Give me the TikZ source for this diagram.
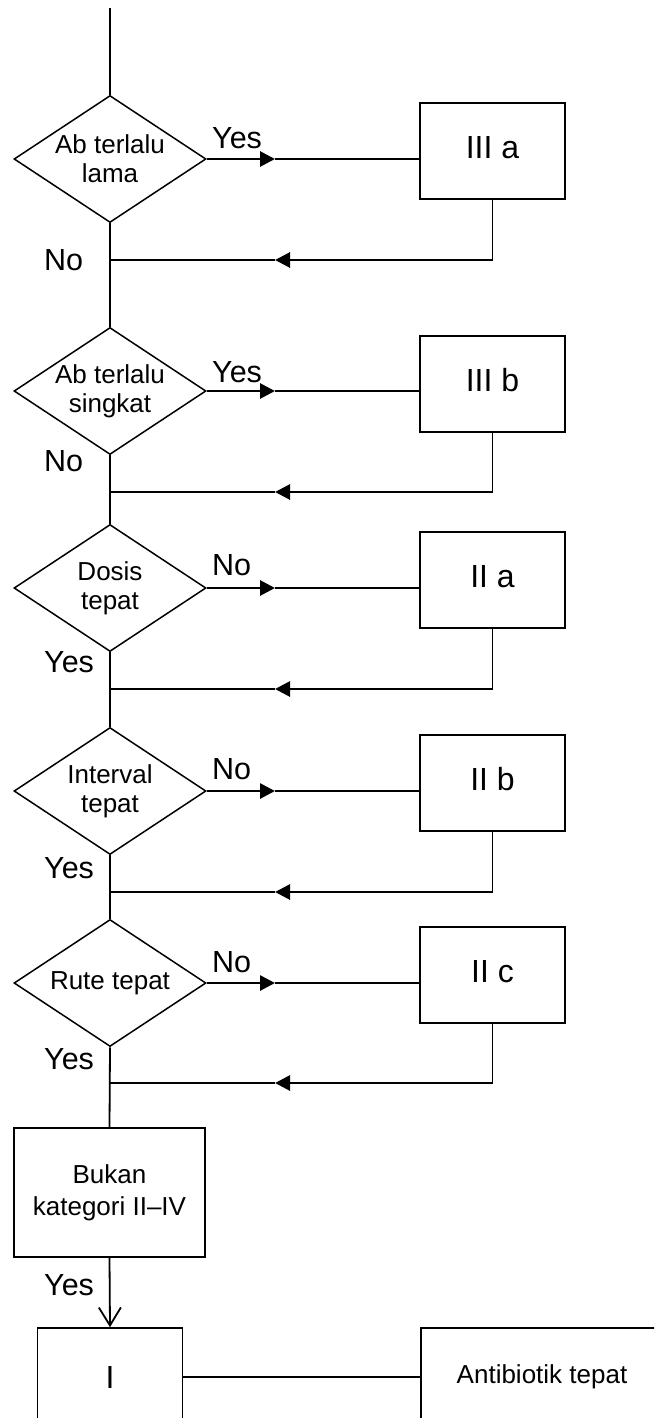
\documentclass[tikz,border=0pt]{standalone}
\usepackage{fontspec}
\setmainfont{Liberation Sans}
\usetikzlibrary{shapes.geometric,arrows.meta}
\begin{document}
\begin{tikzpicture}[x=1pt,y=-1pt,
  dia/.style={draw, diamond, line width=1.5pt, minimum width=192pt, minimum height=127pt, inner sep=0pt},
  dtext/.style={align=center, font=\fontsize{26pt}{29pt}\selectfont, inner sep=0pt},
  box/.style={draw, rectangle, line width=1.6pt, minimum width=145pt, minimum height=96pt, inner sep=0pt, font=\fontsize{32pt}{36pt}\selectfont, text depth=8pt},
  lbl/.style={anchor=base west, inner sep=0pt, font=\fontsize{30.5pt}{36pt}\selectfont},
  mainline/.style={line width=1.8pt},
  thickseg/.style={line width=2.8pt},
  thinseg/.style={line width=1.4pt},
  tip/.style={-{Triangle[length=15pt,width=15pt]}}
]
\useasboundingbox (0,0) rectangle (654,1418);
\clip (0,0) rectangle (654,1418);

% decisions
\coordinate (top) at (110,8);
\node[dia] (d1) at (110,159) {};
\node[dtext] at (d1.center) {Ab terlalu\\lama};
\node[dia] (d2) at (110,391) {};
\node[dtext] at (d2.center) {Ab terlalu\\singkat};
\node[dia] (d3) at (110,588) {};
\node[dtext] at (d3.center) {Dosis\\tepat};
\node[dia] (d4) at (110,791) {};
\node[dtext] at (d4.center) {Interval\\tepat};
\node[dia] (d5) at (110,983) {};
\node[dtext] at (d5.center) {Rute tepat};

% category boxes
\node[box] (b1) at (492.5,151) {III a};
\node[box] (b2) at (492.5,384) {III b};
\node[box] (b3) at (492.5,580) {II a};
\node[box] (b4) at (492.5,783) {II b};
\node[box] (b5) at (492.5,975) {II c};

% bottom boxes
\node[draw, line width=1.6pt, minimum width=191pt, minimum height=129pt, inner sep=0pt, align=center,
      font=\fontsize{26pt}{32pt}\selectfont] (bk) at (109.5,1192.5) {Bukan\\kategori II\textendash IV};
\node[draw, line width=1.6pt, minimum width=145pt, minimum height=98pt, inner sep=0pt,
      font=\fontsize{32pt}{36pt}\selectfont] (bI) at (110,1377) {I};
\node[draw, line width=1.6pt, minimum width=242pt, minimum height=98pt, inner sep=0pt,
      font=\fontsize{26pt}{30pt}\selectfont] (anti) at (542,1377) {Antibiotik tepat};

% main spine
\draw[mainline] (top) -- (d1.north);
\draw[mainline] (d1.south) -- (d2.north);
\draw[mainline] (d2.south) -- (d3.north);
\draw[mainline] (d3.south) -- (d4.north);
\draw[mainline] (d4.south) -- (d5.north);
\draw[mainline] (d5.south) -- (bk.north);
\draw[mainline, -{Straight Barb[length=18pt,width=22pt]}] (bk.south) -- (bI.north);
\draw[thinseg] (bI.east) -- (anti.west);

% branches and returns
\foreach \i/\yb/\yr in {1/159/260, 2/391/492, 3/588/689, 4/791/892, 5/983/1083}{
  \coordinate (a\i) at (275,\yb);
  \coordinate (r\i) at (275,\yr);
  \coordinate (j\i) at (110,\yr);
  \draw[thickseg,tip] (d\i.east) -- (a\i);
  \draw[thinseg] (a\i) -- (a\i -| b\i.west);
  \draw[mainline] (b\i.south) -- (b\i.south |- r\i);
  \draw[thickseg,tip] (b\i.south |- r\i) -- (r\i);
  \draw[thinseg] (r\i) -- (j\i);
}

% labels
\node[lbl] at (212,148) {Yes};
\node[lbl] at (212,382) {Yes};
\node[lbl] at (212,575) {No};
\node[lbl] at (212,779) {No};
\node[lbl] at (212,972) {No};
\node[lbl] at (44,270) {No};
\node[lbl] at (44,471) {No};
\node[lbl] at (44,672) {Yes};
\node[lbl] at (44,878) {Yes};
\node[lbl] at (44,1069) {Yes};
\node[lbl] at (44,1295) {Yes};
\end{tikzpicture}
\end{document}
